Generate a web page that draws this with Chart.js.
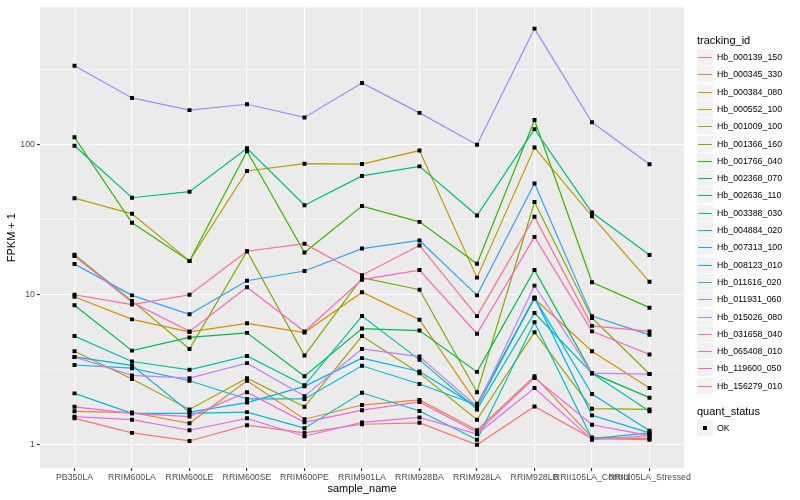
<!DOCTYPE html>
<html>
<head>
<meta charset="utf-8">
<script src="https://cdn.jsdelivr.net/npm/chart.js@4.4.1/dist/chart.umd.min.js"></script>
<style>
body { margin: 0; background: #fff; }
#wrap { position: relative; width: 800px; height: 500px; font-family: "Liberation Sans", Arial, sans-serif; }
#c { position: absolute; left: 0; top: 0; }
.lg-title { position: absolute; left: 697px; font-size: 11px; line-height: 13px; color: #000; white-space: nowrap; }
.lg-key { position: absolute; left: 697px; width: 16px; height: 16px; background: #f2f2f2; }
.lg-key i { position: absolute; left: 1px; width: 14px; top: 8px; height: 1px; }
.lg-key b { position: absolute; left: 6px; top: 6px; width: 4px; height: 4px; background: #000; }
.lg-text { position: absolute; left: 717px; font-size: 8.8px; line-height: 10px; color: #000; white-space: nowrap; }
</style>
</head>
<body>
<div id="wrap">
  <canvas id="c" width="800" height="500"></canvas>
  <div id="legend"></div>
</div>
<script>
const samples = ["PB350LA", "RRIM600LA", "RRIM600LE", "RRIM600SE", "RRIM600PE", "RRIM901LA",
  "RRIM928BA", "RRIM928LA", "RRIM928LB", "RRII105LA_Control", "RRII105LA_Stressed"];

const trackingIds = ["Hb_000139_150", "Hb_000345_330", "Hb_000384_080", "Hb_000552_100", "Hb_001009_100",
  "Hb_001366_160", "Hb_001766_040", "Hb_002368_070", "Hb_002636_110", "Hb_003388_030",
  "Hb_004884_020", "Hb_007313_100", "Hb_008123_010", "Hb_011616_020", "Hb_011931_060",
  "Hb_015026_080", "Hb_031658_040", "Hb_065408_010", "Hb_119600_050", "Hb_156279_010"];

const lineColors = ["#F8766D", "#EA8331", "#D89000", "#C09B00", "#A3A500", "#7CAE00", "#39B600", "#00BB4E",
  "#00BF7D", "#00C1A3", "#00BFC4", "#00BAE0", "#00B0F6", "#35A2FF", "#9590FF", "#C77CFF",
  "#E76BF3", "#FA62DB", "#FF62BC", "#FF6C91"];

// FPKM + 1 per sample
const hb000139 = [1.50, 1.20, 1.06, 1.35, 1.20, 1.37, 1.40, 1.00, 1.80, 1.10, 1.08];
const hb000345 = [1.67, 1.64, 1.39, 2.67, 1.48, 1.84, 1.99, 1.25, 2.86, 1.12, 1.10];
const hb000384 = [9.7, 6.85, 5.65, 6.45, 5.6, 10.4, 6.82, 1.88, 9.4, 4.2, 2.39];
const hb000552 = [44, 34.6, 16.8, 66.8, 74.7, 74.3, 91.4, 13.0, 95.7, 33.4, 12.2];
const hb001009 = [4.2, 2.74, 1.72, 2.78, 1.79, 5.3, 3.0, 1.47, 5.63, 1.74, 1.72];
const hb001366 = [18.5, 9.1, 4.35, 19.5, 3.93, 13.0, 10.8, 2.24, 41.5, 7.0, 2.96];
const hb001766 = [112, 30.2, 16.8, 90.5, 19.1, 39.0, 30.6, 16.1, 146, 12.1, 8.2];
const hb002368 = [8.5, 4.24, 5.19, 5.57, 2.86, 5.95, 5.77, 3.06, 14.6, 3.0, 2.06];
const hb002636 = [98.5, 44.3, 48.6, 94.7, 39.5, 61.9, 71.7, 33.7, 127, 35.3, 18.4];
const hb003388 = [5.3, 3.59, 3.16, 3.91, 2.49, 7.21, 3.68, 1.72, 7.55, 3.0, 1.67];
const hb004884 = [2.2, 1.62, 1.62, 1.65, 1.29, 2.22, 1.68, 1.08, 6.55, 1.10, 1.20];
const hb007313 = [3.4, 3.24, 2.67, 2.02, 2.02, 3.36, 2.54, 1.84, 9.5, 2.18, 1.24];
const hb008123 = [3.85, 3.38, 1.65, 1.91, 2.45, 3.78, 3.08, 1.79, 9.6, 1.57, 1.20];
const hb011616 = [16.0, 9.9, 7.4, 12.4, 14.4, 20.3, 23.0, 9.9, 55.2, 7.2, 5.4];
const hb011931 = [336, 205, 170, 186, 152, 258, 163, 100, 594, 141, 74];
const hb015026 = [3.85, 2.9, 2.78, 3.5, 2.11, 4.35, 3.87, 1.80, 11.5, 3.0, 2.96];
const hb031658 = [1.54, 1.47, 1.25, 1.50, 1.14, 1.41, 1.52, 1.18, 2.39, 1.08, 1.15];
const hb065408 = [1.79, 1.62, 1.54, 2.24, 1.41, 1.70, 1.93, 1.21, 2.79, 1.36, 1.15];
const hb119600 = [18.1, 8.9, 5.7, 11.2, 5.7, 12.6, 14.6, 5.5, 24.3, 5.7, 4.0];
const hb156279 = [10.0, 8.6, 10.0, 19.5, 21.9, 13.5, 21.3, 7.2, 33.1, 6.2, 5.7];

const seriesValues = [hb000139, hb000345, hb000384, hb000552, hb001009, hb001366, hb001766, hb002368,
  hb002636, hb003388, hb004884, hb007313, hb008123, hb011616, hb011931, hb015026,
  hb031658, hb065408, hb119600, hb156279];

const yMajor = [1, 10, 100];
const yMinor = [Math.sqrt(10), Math.sqrt(1000), Math.sqrt(100000)];

function toPoints(vals) {
  return vals.map((v, i) => ({ x: i, y: v }));
}

let datasets = [];
seriesValues.forEach((vals, k) => {
  datasets.push({
    label: trackingIds[k],
    data: toPoints(vals),
    borderColor: lineColors[k],
    borderWidth: 1.2,
    pointRadius: 0,
    fill: false,
    order: 100 - k
  });
});
seriesValues.forEach((vals, k) => {
  datasets.push({
    label: trackingIds[k] + " OK",
    data: toPoints(vals),
    showLine: false,
    pointStyle: 'rect',
    pointRadius: 2.8,
    pointBackgroundColor: '#000',
    pointBorderWidth: 0,
    order: 0
  });
});

const panelBg = {
  id: 'panelBg',
  beforeDraw(chart) {
    const { ctx, chartArea: a } = chart;
    ctx.save();
    ctx.fillStyle = '#EBEBEB';
    ctx.fillRect(a.left, a.top, a.right - a.left, a.bottom - a.top);
    ctx.restore();
  }
};

Chart.defaults.font.family = '"Liberation Sans", Arial, sans-serif';

new Chart(document.getElementById('c'), {
  type: 'line',
  data: { datasets: datasets },
  plugins: [panelBg],
  options: {
    responsive: false,
    animation: false,
    layout: { padding: { left: 0, right: 116, top: 5, bottom: 0 } },
    plugins: { legend: { display: false }, tooltip: { enabled: false } },
    scales: {
      x: {
        type: 'linear',
        min: -0.6,
        max: 10.6,
        afterBuildTicks: (scale) => { scale.ticks = samples.map((s, i) => ({ value: i })); },
        afterFit: (scale) => { scale.height = 32; },
        border: { display: false },
        grid: { color: '#ffffff', lineWidth: 1.1, tickColor: '#333333', tickLength: 3 },
        ticks: {
          autoSkip: false, maxRotation: 0, minRotation: 0, padding: 1.5,
          color: '#4D4D4D', font: { size: 8.8 },
          callback: (v, i) => samples[i]
        },
        title: { display: true, text: 'sample_name', color: '#000', font: { size: 11 }, padding: { bottom: 4.5 } }
      },
      y: {
        type: 'logarithmic',
        min: 0.733,
        max: 824,
        afterBuildTicks: (scale) => {
          scale.ticks = yMajor.concat(yMinor).sort((a, b) => a - b).map(v => ({ value: v }));
        },
        afterFit: (scale) => { scale.width = 40; },
        border: { display: false },
        grid: {
          color: '#ffffff',
          lineWidth: (c) => (c.tick && yMajor.includes(c.tick.value)) ? 1.1 : 0.55,
          tickColor: (c) => (c.tick && yMajor.includes(c.tick.value)) ? '#333333' : 'rgba(0,0,0,0)',
          tickLength: 3
        },
        ticks: {
          color: '#4D4D4D', font: { size: 8.8 }, padding: 2,
          callback: (v) => yMajor.includes(v) ? String(v) : ''
        },
        title: { display: true, text: 'FPKM + 1', color: '#000', font: { size: 11 }, padding: { top: 5.5 } }
      }
    }
  }
});

// legend in ggplot style
const legend = document.getElementById('legend');
let html = '<div class="lg-title" style="top:34px">tracking_id</div>';
trackingIds.forEach((id, k) => {
  const cy = Math.round(57 + 17.3 * k);
  html += '<div class="lg-key" style="top:' + (cy - 8) + 'px"><i style="background:' + lineColors[k] + '"></i></div>';
  html += '<div class="lg-text" style="top:' + (cy - 5) + 'px">' + id + '</div>';
});
html += '<div class="lg-title" style="top:405px">quant_status</div>';
html += '<div class="lg-key" style="top:420px"><b></b></div>';
html += '<div class="lg-text" style="top:423px">OK</div>';
legend.innerHTML = html;
</script>
</body>
</html>
